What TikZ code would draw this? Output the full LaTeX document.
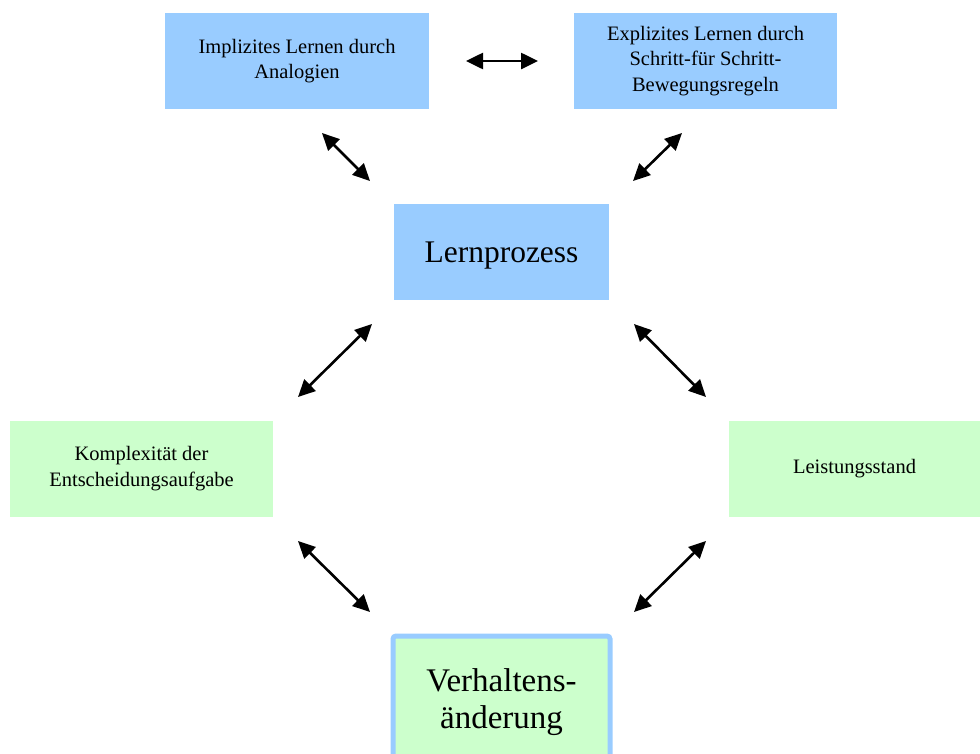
\documentclass[tikz,border=0pt]{standalone}
\usepackage{fontspec}
\setmainfont{Liberation Serif}
\usetikzlibrary{arrows.meta}
\definecolor{lblue}{HTML}{99CCFF}
\definecolor{lgreen}{HTML}{CCFFCC}
\begin{document}
\begin{tikzpicture}[x=1pt,y=-1pt,
  bluebox/.style={fill=lblue,draw=none,minimum width=264pt,minimum height=96pt,align=center,font=\fontsize{20.5}{25.5}\selectfont,inner sep=0pt},
  greenbox/.style={fill=lgreen,draw=none,minimum height=96pt,align=center,font=\fontsize{20.5}{26}\selectfont,inner sep=0pt},
  arr/.style={{Triangle[length=17pt,width=16pt]}-{Triangle[length=17pt,width=16pt]},line width=2.6pt,black}]
\useasboundingbox (0,0) rectangle (980,753);
\node[bluebox] (impl) at (297,61) {Implizites Lernen durch\\Analogien};
\node[bluebox,minimum width=263pt] (expl) at (705.5,61) {Explizites Lernen durch\\Schritt-für Schritt-\\Bewegungsregeln};
\node[bluebox,minimum width=215pt,text depth=0pt,font=\fontsize{31.5}{36}\selectfont] (lern) at (501.5,252) {Lernprozess};
\node[greenbox,minimum width=263pt] (komp) at (141.5,469) {Komplexität der\\Entscheidungsaufgabe};
\node[greenbox,minimum width=251pt] (leist) at (854.5,469) {Leistungsstand};
\node[fill=lgreen,draw=lblue,line width=5pt,rounded corners=3pt,minimum width=217pt,minimum height=132pt,align=center,inner sep=0pt,font=\fontsize{33}{37}\selectfont] (verh) at (501.5,702) {Verhaltens-\\änderung};
% arrow endpoints
\coordinate (h1) at (466,61); \coordinate (h2) at (538,61);
\coordinate (a1) at (322,133); \coordinate (a2) at (370,181);
\coordinate (b1) at (682,133); \coordinate (b2) at (633,181);
\coordinate (c1) at (372,324); \coordinate (c2) at (298,397);
\coordinate (d1) at (634,324); \coordinate (d2) at (706,397);
\coordinate (e1) at (298,541); \coordinate (e2) at (370,612);
\coordinate (f1) at (706,541); \coordinate (f2) at (634,612);
\draw[arr] (h1) -- (h2);
\draw[arr] (a1) -- (a2);
\draw[arr] (b1) -- (b2);
\draw[arr] (c1) -- (c2);
\draw[arr] (d1) -- (d2);
\draw[arr] (e1) -- (e2);
\draw[arr] (f1) -- (f2);
\end{tikzpicture}
\end{document}
